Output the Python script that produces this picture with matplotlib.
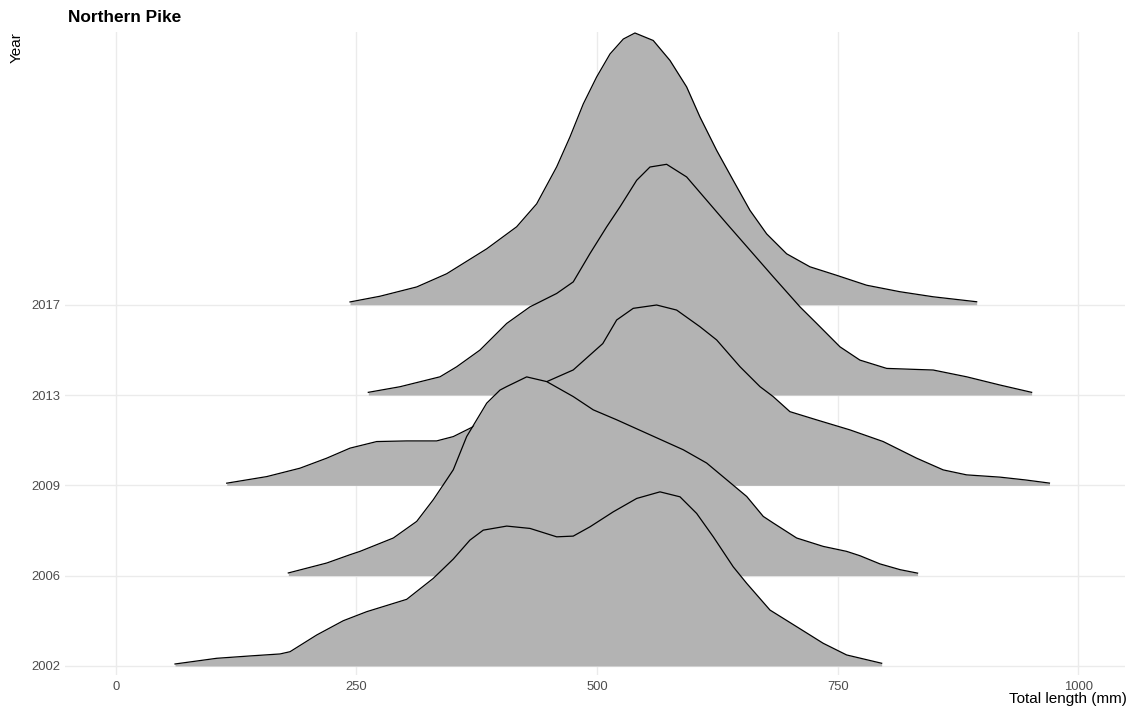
import matplotlib
matplotlib.use('Agg')
import matplotlib.pyplot as plt

plt.rcParams['font.family'] = ['Liberation Sans', 'DejaVu Sans']

# ---- data (total length in mm, ridge height in row units) ----
years = ['2002', '2006', '2009', '2013', '2017']
x_ticks = [0, 250, 500, 750, 1000]

len_2002 = [61.6, 104.9, 139.5, 170.7, 181.1, 208.8, 236.4, 260.7, 302.3, 329.9, 350.7, 368.0,
            381.8, 406.2, 430.4, 458.1, 475.3, 492.7, 516.9, 541.2, 565.4, 586.2, 603.5, 620.8,
            641.5, 655.5, 679.7, 707.4, 735.0, 759.3, 795.7]
dens_2002 = [0.022, 0.085, 0.111, 0.133, 0.158, 0.343, 0.501, 0.601, 0.738, 0.970, 1.184, 1.394,
             1.504, 1.549, 1.523, 1.430, 1.438, 1.541, 1.707, 1.855, 1.928, 1.873, 1.689, 1.430,
             1.098, 0.915, 0.619, 0.435, 0.251, 0.122, 0.030]

len_2006 = [179.3, 219.2, 243.4, 253.8, 288.4, 312.7, 329.9, 343.8, 350.7, 364.6, 385.4, 399.2,
            406.2, 426.9, 447.7, 475.3, 496.1, 520.4, 555.0, 589.6, 613.9, 634.7, 655.5, 672.7,
            683.1, 707.4, 735.0, 759.3, 773.1, 794.0, 815.0, 833.0]
dens_2006 = [0.030, 0.140, 0.232, 0.269, 0.417, 0.601, 0.841, 1.062, 1.173, 1.541, 1.910, 2.055,
             2.094, 2.201, 2.149, 1.983, 1.836, 1.726, 1.560, 1.394, 1.247, 1.062, 0.877, 0.656,
             0.583, 0.417, 0.324, 0.269, 0.221, 0.130, 0.066, 0.028]

len_2009 = [115.3, 156.9, 191.4, 219.2, 243.4, 271.1, 302.3, 333.4, 350.7, 375.0, 399.2, 425.2,
            447.7, 475.3, 506.0, 520.4, 537.6, 561.9, 582.7, 606.9, 624.3, 648.5, 669.3, 683.1,
            700.4, 728.2, 762.8, 797.3, 832.0, 859.7, 884.0, 918.6, 945.0, 970.0]
dens_2009 = [0.024, 0.097, 0.190, 0.301, 0.412, 0.485, 0.492, 0.492, 0.540, 0.669, 0.820, 0.985,
             1.148, 1.278, 1.570, 1.831, 1.960, 1.997, 1.941, 1.757, 1.610, 1.314, 1.093, 0.982,
             0.816, 0.725, 0.614, 0.485, 0.301, 0.171, 0.116, 0.091, 0.060, 0.025]

len_2013 = [262.4, 295.3, 336.9, 354.2, 378.4, 406.2, 430.4, 458.1, 475.3, 492.7, 510.0, 523.8,
            541.2, 555.0, 572.3, 593.1, 613.9, 634.7, 658.9, 683.1, 710.8, 728.2, 752.4, 773.1,
            800.9, 849.3, 884.0, 918.6, 951.5]
dens_2013 = [0.030, 0.092, 0.202, 0.313, 0.498, 0.793, 0.977, 1.125, 1.253, 1.567, 1.862, 2.083,
             2.378, 2.525, 2.555, 2.415, 2.157, 1.899, 1.604, 1.309, 0.977, 0.793, 0.534, 0.387,
             0.295, 0.277, 0.202, 0.111, 0.030]

len_2017 = [243.4, 274.5, 312.7, 343.8, 385.4, 416.5, 437.3, 458.1, 471.9, 485.7, 499.6, 513.5,
            527.3, 539.4, 558.4, 575.8, 593.1, 606.9, 624.3, 641.5, 658.9, 676.2, 697.0, 721.2,
            748.9, 780.1, 814.7, 849.3, 894.4]
dens_2017 = [0.031, 0.094, 0.197, 0.343, 0.619, 0.863, 1.117, 1.527, 1.858, 2.223, 2.522, 2.777,
             2.942, 3.009, 2.926, 2.705, 2.412, 2.080, 1.709, 1.377, 1.045, 0.785, 0.564, 0.420,
             0.326, 0.216, 0.144, 0.088, 0.033]

lengths = [len_2002, len_2006, len_2009, len_2013, len_2017]
densities = [dens_2002, dens_2006, dens_2009, dens_2013, dens_2017]

# ---- figure ----
W, H = 1135, 724
fig = plt.figure(figsize=(W / 100, H / 100), dpi=100)
left, right, top, bottom = 65, 1125, 32, 675
ax = fig.add_axes([left / W, 1 - bottom / H, (right - left) / W, (bottom - top) / H])
ax.set_xlim(-52.7, 1048.5)
ax.set_ylim(-0.1, 7.02)

for i in range(len(years) - 1, -1, -1):
    z = 10 + (len(years) - i) * 2
    ax.fill_between(lengths[i], i, [i + d for d in densities[i]],
                    color='#B3B3B3', lw=0, zorder=z)
    ax.plot(lengths[i], [i + d for d in densities[i]], color='black', lw=0.9,
            zorder=z + 1, solid_joinstyle='round')

ax.set_xticks(x_ticks)
ax.set_xticklabels([str(t) for t in x_ticks])
ax.set_yticks(range(len(years)))
ax.set_yticklabels(years)
ax.grid(True, color='#EBEBEB', lw=1.0)
ax.set_axisbelow(True)
for s in ax.spines.values():
    s.set_visible(False)
ax.tick_params(axis='both', length=0, labelsize=9.4, labelcolor='#4D4D4D')
ax.tick_params(axis='x', pad=4)
ax.tick_params(axis='y', pad=3)

fig.text(68 / W, 1 - 17 / H, 'Northern Pike', fontsize=12.4, fontweight='bold',
         ha='left', va='center', color='black')
fig.text(17 / W, 1 - 32 / H, 'Year', fontsize=11, rotation=90,
         ha='center', va='top', color='black')
fig.text(1127 / W, 1 - 703 / H, 'Total length (mm)', fontsize=11,
         ha='right', va='baseline', color='black')

fig.savefig('out.png', dpi=100)
